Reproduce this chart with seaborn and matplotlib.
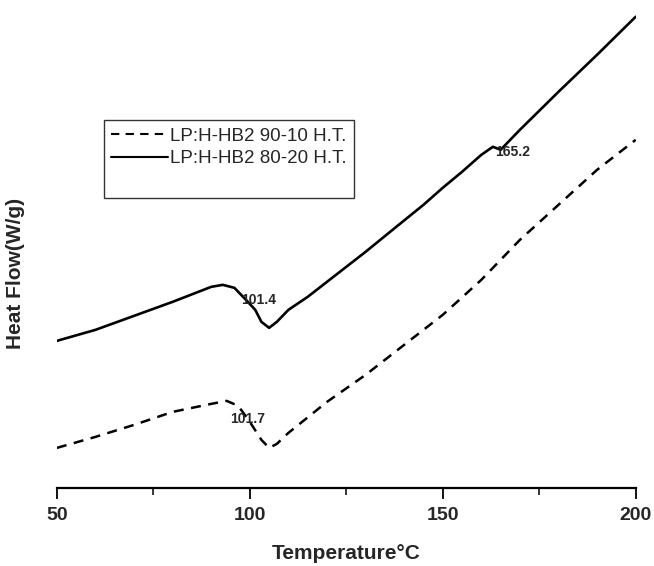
import matplotlib
matplotlib.use("Agg")
import matplotlib.pyplot as plt
import seaborn as sns
from matplotlib.ticker import MultipleLocator
from matplotlib.lines import Line2D

sns.set_theme(style="white")
plt.rcParams['font.family'] = ['Liberation Sans', 'DejaVu Sans']

temp_8020 = [50, 60, 70, 80, 90, 93, 96, 99, 101.4, 103, 105, 107, 110, 115, 120, 130, 137, 145,
             150, 155, 160, 163, 165, 170, 180, 190, 200]
flow_8020 = [1.47, 1.58, 1.72, 1.86, 2.01, 2.03, 2.00, 1.88, 1.78, 1.66, 1.60, 1.66, 1.78, 1.91,
             2.06, 2.36, 2.58, 2.83, 3.00, 3.16, 3.33, 3.41, 3.38, 3.58, 3.96, 4.33, 4.71]
temp_9010 = [50, 60, 70, 80, 90, 94, 97, 100, 103, 105, 107, 110, 120, 130, 140, 150, 160, 170,
             180, 190, 200]
flow_9010 = [0.40, 0.51, 0.63, 0.76, 0.84, 0.87, 0.82, 0.66, 0.48, 0.40, 0.44, 0.55, 0.86, 1.13,
             1.43, 1.73, 2.08, 2.48, 2.83, 3.18, 3.48]
labels = ["LP:H-HB2 90-10 H.T.", "LP:H-HB2 80-20 H.T."]
xticks = [50, 100, 150, 200]
peaks = [(102.2, 1.88, "101.4"), (99.5, 0.69, "101.7"), (168.0, 3.36, "165.2")]

fig = plt.figure(figsize=(6.54, 5.66), dpi=100)
ax = fig.add_axes([0.087, 0.138, 0.885, 0.843])

dash = (0, (4, 3))
sns.lineplot(x=temp_9010, y=flow_9010, ax=ax, color="black", lw=1.8,
             linestyle=dash, legend=False)
sns.lineplot(x=temp_8020, y=flow_8020, ax=ax, color="black", lw=1.9, legend=False)

for x, y, t in peaks:
    ax.text(x, y, t, fontsize=10, fontweight="bold", ha="center", va="center")

ax.set_xlim(50, 200)
ax.set_ylim(0, 4.77)
ax.set_xticks(xticks)
ax.xaxis.set_minor_locator(MultipleLocator(25))
ax.tick_params(axis="x", which="major", direction="out", length=8, width=1.3,
               labelsize=14, pad=6, bottom=True, color="black")
ax.tick_params(axis="x", which="minor", direction="out", length=5, width=1.1,
               bottom=True, color="black")
for lab in ax.get_xticklabels():
    lab.set_fontweight("bold")
ax.set_yticks([])
for s in ["top", "right", "left"]:
    ax.spines[s].set_visible(False)
ax.spines["bottom"].set_color("black")
ax.spines["bottom"].set_linewidth(1.6)

ax.set_xlabel("Temperature°C", fontsize=15, fontweight="bold", labelpad=14)
ax.set_ylabel("Heat Flow(W/g)", fontsize=15, fontweight="bold")
ax.yaxis.set_label_coords(-0.055, 0.45)

handles = [Line2D([], [], color="black", lw=1.5, linestyle=(0, (4, 3))),
           Line2D([], [], color="black", lw=1.5),
           Line2D([], [], color="none")]
leg = ax.legend(handles, labels + [" "], loc="upper left", bbox_to_anchor=(0.081, 0.771),
                fontsize=13.5, frameon=True, fancybox=False, edgecolor="black",
                handlelength=3.0, handletextpad=0.15, borderpad=0.4, borderaxespad=0,
                labelspacing=0.3)
leg.get_frame().set_linewidth(1.0)
leg.get_frame().set_facecolor("white")

fig.savefig("out.png", dpi=100)
